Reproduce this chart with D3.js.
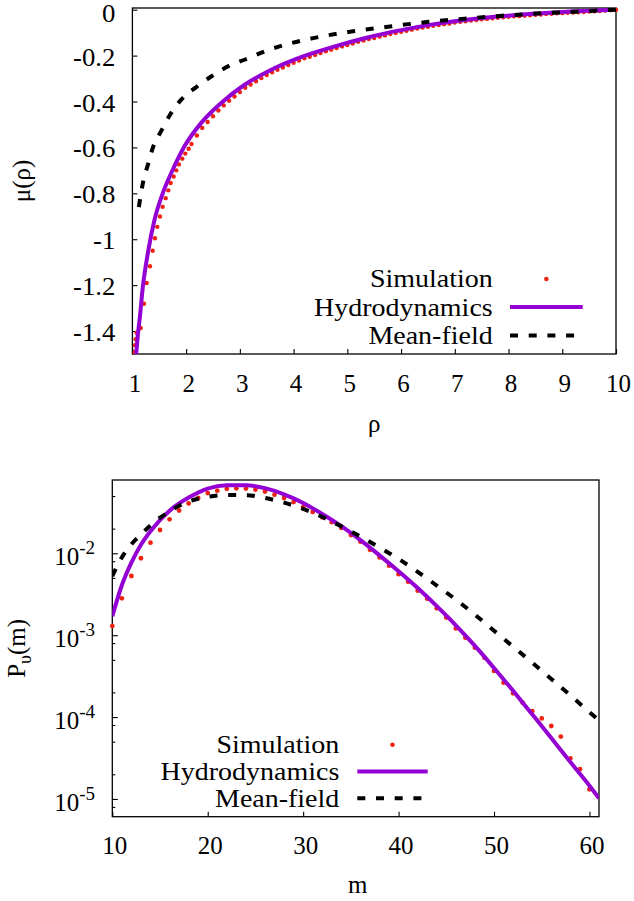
<!DOCTYPE html>
<html><head><meta charset="utf-8">
<script src="https://cdn.jsdelivr.net/npm/d3@7"></script>
<style>
body{margin:0;background:#fff}
svg text{font-family:"Liberation Serif","DejaVu Serif","Noto Serif","Times New Roman",Times,serif;fill:#000}
</style>
</head><body>
<svg id="c" width="634" height="901"></svg>
<script>
// ---------------- DATA: top panel  mu(rho) ----------------
const topXTicks = [1,2,3,4,5,6,7,8,9,10];
const topYTicks = [0,-0.2,-0.4,-0.6,-0.8,-1,-1.2,-1.4];

const rhoSim = [1.045,1.048,1.061,1.08,1.154,1.216,1.266,1.327,1.377,1.42,1.463,1.513,1.563,1.619,1.668,1.712,1.768,1.817,1.866,1.928,1.984,2.047,
  2.1,2.2,2.3,2.4,2.5,2.6,2.7,2.8,2.9,3.0,3.1,3.2,3.3,3.4,3.5,3.6,3.7,3.8,3.9,4.0,4.1,4.2,4.3,4.4,4.5,4.6,4.7,4.8,4.9,5.0,
  5.1,5.2,5.3,5.4,5.5,5.6,5.7,5.8,5.9,6.0,6.1,6.2,6.3,6.4,6.5,6.6,6.7,6.8,6.9,7.0,7.1,7.2,7.3,7.4,7.5,7.6,7.7,7.8,7.9,8.0,
  8.1,8.2,8.3,8.4,8.5,8.6,8.7,8.8,8.9,9.0,9.1,9.2,9.3,9.4,9.5,9.6,9.7,9.8,9.9,10.0];
const muSim = [-1.492,-1.462,-1.436,-1.407,-1.387,-1.281,-1.191,-1.118,-1.050,-0.996,-0.946,-0.901,-0.859,-0.821,-0.787,-0.755,-0.727,-0.700,-0.674,-0.649,-0.627,-0.606,
  -0.585,-0.548,-0.515,-0.489,-0.464,-0.439,-0.417,-0.397,-0.378,-0.359,-0.340,-0.326,-0.312,-0.298,-0.285,-0.273,-0.262,-0.252,-0.241,-0.231,-0.221,-0.212,-0.205,-0.197,-0.189,-0.181,-0.174,-0.167,-0.160,-0.154,
  -0.147,-0.140,-0.134,-0.128,-0.123,-0.117,-0.112,-0.106,-0.101,-0.096,-0.092,-0.087,-0.082,-0.078,-0.074,-0.070,-0.067,-0.063,-0.060,-0.056,-0.053,-0.050,-0.047,-0.045,-0.042,-0.040,-0.037,-0.035,-0.033,-0.031,
  -0.029,-0.028,-0.026,-0.024,-0.022,-0.021,-0.019,-0.018,-0.016,-0.015,-0.013,-0.012,-0.011,-0.010,-0.008,-0.007,-0.006,-0.004,-0.002,0.0];

const rhoHydro = [1.07,1.10,1.136,1.197,1.29,1.415,1.569,1.755,1.972,2.281,2.653,3.088,3.521,4.1,4.735,5.357,5.976,6.595,7.216,7.835,8.455,9.075,10];
const muHydro  = [-1.50,-1.42,-1.346,-1.202,-1.057,-0.912,-0.797,-0.695,-0.594,-0.493,-0.406,-0.327,-0.269,-0.210,-0.162,-0.122,-0.090,-0.064,-0.044,-0.029,-0.018,-0.009,0];

const rhoMF = [1.12,1.197,1.29,1.383,1.537,1.693,1.909,2.189,2.467,2.778,3.088,3.6,4.364,5.077,5.758,6.44,7.14,7.835,8.52,9.2,10];
const muMF  = [-0.86,-0.753,-0.674,-0.600,-0.528,-0.461,-0.392,-0.337,-0.291,-0.247,-0.218,-0.170,-0.124,-0.095,-0.074,-0.055,-0.040,-0.027,-0.017,-0.009,0];

// ---------------- DATA: bottom panel  P(m) ----------------
const botXTicks = [10,20,30,40,50,60];
const botYMajor = [1e-2,1e-3,1e-4,1e-5];
const botYMajorExp = ["-2","-3","-4","-5"];
const botYMinor = [5e-2,2e-2,8e-3,5e-3,2e-3,8e-4,5e-4,2e-4,8e-5,5e-5,2e-5,8e-6];

const mSim = [10,11,12,13,14,15,16,17,18,19,20,21,22,23,24,25,26,27,28,29,30,31,32,33,34,35,36,37,38,39,40,41,42,43,44,45,46,47,48,49,50,51,52,53,54,55,56,57,58,59,60];
const pSim = [1.29e-3,2.82e-3,5.28e-3,8.69e-3,1.349e-2,1.923e-2,2.60e-2,3.33e-2,4.06e-2,4.73e-2,5.43e-2,5.81e-2,6.12e-2,6.22e-2,6.17e-2,6.00e-2,5.68e-2,5.19e-2,4.73e-2,4.22e-2,3.67e-2,3.20e-2,2.75e-2,2.40e-2,2.04e-2,1.67e-2,1.387e-2,1.102e-2,8.89e-3,7.06e-3,5.56e-3,4.50e-3,3.49e-3,2.79e-3,2.13e-3,1.64e-3,1.21e-3,9.33e-4,7.03e-4,5.31e-4,3.66e-4,2.63e-4,1.95e-4,1.50e-4,1.18e-4,9.62e-5,7.78e-5,5.77e-5,3.13e-5,2.31e-5,1.31e-5];

const mHydro = [10,11,12,13,14,16,18,20,22,24,26,28,30,32,34,36,38,40,42,44,46,48,50,52,54,56,58,60,61];
const pHydro = [1.70e-3,4.07e-3,7.67e-3,1.27e-2,1.86e-2,3.31e-2,4.79e-2,6.17e-2,6.76e-2,6.79e-2,6.24e-2,5.25e-2,4.12e-2,3.02e-2,2.14e-2,1.445e-2,9.44e-3,6.03e-3,3.76e-3,2.26e-3,1.32e-3,7.41e-4,3.98e-4,2.09e-4,1.08e-4,5.56e-5,2.82e-5,1.45e-5,1.02e-5];

const mMF = [10,11,12,13,14,15,16,17,18,20,22,24,26,28,30,32,34,36,38,40,42,44,46,48,50,52,54,56,58,60,61];
const pMF = [5.25e-3,8.91e-3,1.288e-2,1.70e-2,2.19e-2,2.72e-2,3.24e-2,3.80e-2,4.27e-2,4.90e-2,5.15e-2,5.13e-2,4.73e-2,4.15e-2,3.48e-2,2.78e-2,2.13e-2,1.60e-2,1.175e-2,8.55e-3,5.94e-3,4.04e-3,2.72e-3,1.78e-3,1.135e-3,7.24e-4,4.62e-4,2.92e-4,1.84e-4,1.15e-4,9.12e-5];

const legendLabels = ["Simulation","Hydrodynamics","Mean-field"];

// ---------------- STYLE ----------------
const RED = "#ee2211", PURPLE = "#9400d3";
const FS = 25;
const DASH = "8,10.7";
const SERIF = '"Liberation Serif","DejaVu Serif","Noto Serif","Times New Roman",Times,serif';

const svg = d3.select("#c");
const zip = (a,b) => a.map((v,i)=>[v,b[i]]);

function stretch(sel, k){
  sel.each(function(){
    const w = this.getComputedTextLength();
    this.setAttribute("textLength", (w*k).toFixed(1));
    this.setAttribute("lengthAdjust","spacingAndGlyphs");
  });
}

function styleAxis(g){
  g.attr("font-family",null);
  g.select(".domain").remove();
  g.selectAll(".tick line").attr("stroke","#000").attr("stroke-width",1.1);
  g.selectAll(".tick text").attr("font-size",FS).attr("fill","#000").style("font-family",SERIF);
}

// ================= TOP PANEL =================
const T = {l:132.4, r:616, t:8, b:354};
const xT = d3.scaleLinear().domain([1,10]).range([T.l,T.r]);
const yT = d3.scaleLinear().domain([-1.5,0.0074]).range([T.b,T.t]);

svg.append("clipPath").attr("id","clipT").append("rect")
  .attr("x",T.l).attr("y",T.t).attr("width",T.r-T.l).attr("height",T.b-T.t);

const gxT = svg.append("g").attr("transform",`translate(0,${T.b})`)
  .call(d3.axisBottom(xT).tickValues(topXTicks).tickSize(-5).tickPadding(20).tickFormat(d=>String(d)));
styleAxis(gxT); gxT.selectAll(".tick text").attr("dx",2);
const gyT = svg.append("g").attr("transform",`translate(${T.l},0)`)
  .call(d3.axisLeft(yT).tickValues(topYTicks).tickSize(-5).tickPadding(17).tickFormat(d=>String(d)));
styleAxis(gyT);
gyT.selectAll(".tick text").attr("dy",d => d===0 ? "0.46em" : "0.38em");

svg.append("rect").attr("x",T.l).attr("y",T.t).attr("width",T.r-T.l).attr("height",T.b-T.t)
  .attr("fill","none").attr("stroke","#000").attr("stroke-width",1.3);

svg.append("g").selectAll("circle").data(zip(rhoSim,muSim)).join("circle")
  .attr("cx",d=>xT(d[0])).attr("cy",d=>yT(d[1])).attr("r",2.2).attr("fill",RED);

const lineT = d3.line().x(d=>xT(d[0])).y(d=>yT(d[1])).curve(d3.curveMonotoneX);
svg.append("path").datum(zip(rhoHydro,muHydro)).attr("d",lineT).attr("clip-path","url(#clipT)")
  .attr("fill","none").attr("stroke",PURPLE).attr("stroke-width",4);
svg.append("path").datum(zip(rhoMF,muMF)).attr("d",lineT).attr("clip-path","url(#clipT)")
  .attr("fill","none").attr("stroke","#000").attr("stroke-width",4).attr("stroke-dasharray",DASH);

svg.append("text").attr("transform",`translate(30,${(T.t+T.b)/2}) rotate(-90)`)
  .attr("text-anchor","middle").attr("font-size",FS).text("μ(ρ)");
svg.append("text").attr("x",(T.l+T.r)/2).attr("y",432).attr("text-anchor","middle")
  .attr("font-size",FS).text("ρ");

function legend(xText, ys, xs0, xs1){
  const g = svg.append("g");
  legendLabels.forEach((s,i)=>{
    g.append("text").attr("class","leg").attr("x",xText).attr("y",ys[i]).attr("text-anchor","end")
      .attr("font-size",26).style("font-family",SERIF).text(s);
  });
  g.append("circle").attr("cx",(xs0+xs1)/2).attr("cy",ys[0]-8).attr("r",2.3).attr("fill",RED);
  g.append("line").attr("x1",xs0).attr("x2",xs1).attr("y1",ys[1]-8.4).attr("y2",ys[1]-8.4)
    .attr("stroke",PURPLE).attr("stroke-width",4);
  g.append("line").attr("x1",xs0).attr("x2",xs1).attr("y1",ys[2]-8.4).attr("y2",ys[2]-8.4)
    .attr("stroke","#000").attr("stroke-width",4).attr("stroke-dasharray",DASH);
}
legend(492.7,[287,315.5,344],510,582.7);

// ================= BOTTOM PANEL =================
const B = {l:112.3, r:599, t:480, b:816.7};
const xB = d3.scaleLinear().domain([10,61]).range([B.l,B.r]);
const yB = d3.scaleLog().domain([6.07e-6,0.0785]).range([B.b,B.t]);

svg.append("clipPath").attr("id","clipB").append("rect")
  .attr("x",B.l).attr("y",B.t).attr("width",B.r-B.l).attr("height",B.b-B.t);

const gxB = svg.append("g").attr("transform",`translate(0,${B.b})`)
  .call(d3.axisBottom(xB).tickValues(botXTicks).tickSize(-5).tickPadding(20).tickFormat(d=>String(d)));
styleAxis(gxB); gxB.selectAll(".tick text").attr("dx",2);
const gyB = svg.append("g").attr("transform",`translate(${B.l},0)`)
  .call(d3.axisLeft(yB).tickValues(botYMajor).tickSize(-5.5).tickFormat(""));
styleAxis(gyB);
const gyBm = svg.append("g").attr("transform",`translate(${B.l},0)`)
  .call(d3.axisLeft(yB).tickValues(botYMinor).tickSize(-3).tickFormat(""));
styleAxis(gyBm);

botYMajor.forEach((v,i)=>{
  const t = svg.append("text").attr("x",95).attr("y",yB(v)+12).attr("text-anchor","end").attr("font-size",FS);
  t.append("tspan").text("10");
  t.append("tspan").attr("dy",-11).attr("font-size",19).text(botYMajorExp[i]);
});

svg.append("rect").attr("x",B.l).attr("y",B.t).attr("width",B.r-B.l).attr("height",B.b-B.t)
  .attr("fill","none").attr("stroke","#000").attr("stroke-width",1.3);

svg.append("g").selectAll("circle").data(zip(mSim,pSim)).join("circle")
  .attr("cx",d=>xB(d[0])).attr("cy",d=>yB(d[1])).attr("r",2.4).attr("fill",RED);

const lineB = d3.line().x(d=>xB(d[0])).y(d=>yB(d[1])).curve(d3.curveMonotoneX);
svg.append("path").datum(zip(mHydro,pHydro)).attr("d",lineB).attr("clip-path","url(#clipB)")
  .attr("fill","none").attr("stroke",PURPLE).attr("stroke-width",4);
svg.append("path").datum(zip(mMF,pMF)).attr("d",lineB).attr("clip-path","url(#clipB)")
  .attr("fill","none").attr("stroke","#000").attr("stroke-width",4).attr("stroke-dasharray",DASH);

const yl = svg.append("text").attr("transform",`translate(25,${(B.t+B.b)/2}) rotate(-90)`)
  .attr("text-anchor","middle").attr("font-size",FS);
yl.append("tspan").text("P");
yl.append("tspan").attr("dy",6).attr("font-size",18).text("υ");
yl.append("tspan").attr("dy",-6).text("(m)");
svg.append("text").attr("x",(B.l+B.r)/2+2).attr("y",893).attr("text-anchor","middle")
  .attr("font-size",FS).text("m");

legend(339.3,[752.7,780,806.7],357.3,427.7);

svg.selectAll("text").style("font-family",SERIF);
stretch(svg.selectAll("text.leg"), 1.076);
stretch(gyT.selectAll(".tick text"), 1.07);
</script>
</body></html>
